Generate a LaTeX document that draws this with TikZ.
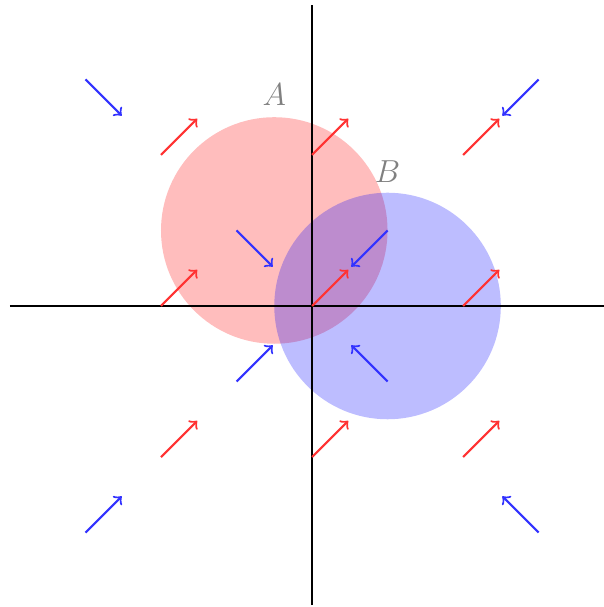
\documentclass[tikz,border=0pt]{standalone}
\begin{document}
\begin{tikzpicture}[x=2cm,y=2cm,
  redarrow/.style={->,draw={rgb,255:red,255;green,50;blue,50},line width=0.8pt},
  bluearrow/.style={->,draw={rgb,255:red,50;green,50;blue,255},line width=0.8pt},
  axis/.style={line width=0.8pt,black},
  lbl/.style={text=gray,font=\large}]
\useasboundingbox (-2.066,-1.993) rectangle (1.927,2.026);
% circles
\fill[red,opacity=0.26] (-0.25,0.5) circle (0.75);
\fill[blue,opacity=0.26] (0.5,0) circle (0.75);
% axes
\coordinate (xl) at (-2,0);
\coordinate (xr) at (1.93,0);
\coordinate (yb) at (0,-1.98);
\coordinate (yt) at (0,1.99);
\draw[axis] (xl) -- (xr);
\draw[axis] (yb) -- (yt);
% red arrows
\foreach \x in {-1,0,1}{
  \foreach \y in {-1,0,1}{
    \draw[redarrow] (\x,\y) -- ++(0.24,0.24);
  }
}
% blue arrows pointing toward origin
\foreach \x/\y in {-1.5/1.5,1.5/1.5,-0.5/0.5,0.5/0.5,-0.5/-0.5,0.5/-0.5,-1.5/-1.5,1.5/-1.5}{
  \pgfmathsetmacro{\dx}{(\x<0)?0.24:-0.24}
  \pgfmathsetmacro{\dy}{(\y<0)?0.24:-0.24}
  \draw[bluearrow] (\x,\y) -- ++(\dx,\dy);
}
% labels
\node[lbl] (A) at (-0.25,1.40) {$A$};
\node[lbl] (B) at (0.5,0.89) {$B$};
\end{tikzpicture}
\end{document}
